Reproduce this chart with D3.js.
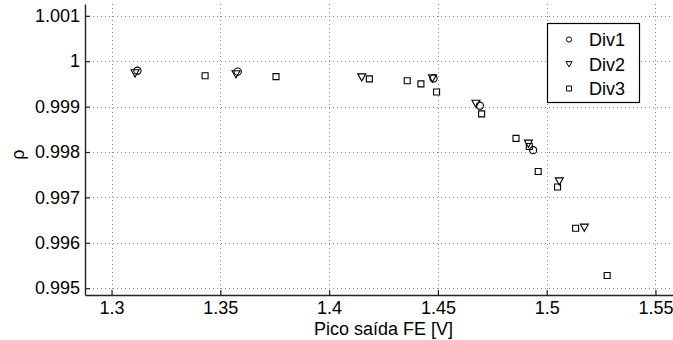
<!DOCTYPE html>
<html><head><meta charset="utf-8">
<script src="https://cdn.jsdelivr.net/npm/d3@7"></script>
<style>body{margin:0;background:#fff}svg{display:block}text{font-family:"Liberation Sans",Arial,sans-serif;fill:#000}</style>
</head><body>
<svg id="c" width="673" height="340"></svg>
<script>
const div1X = [1.3119, 1.3580, 1.4480, 1.4693, 1.4938];
const div1Y = [0.99979, 0.99977, 0.99962, 0.99902, 0.99804];
const div2X = [1.3108, 1.3572, 1.4150, 1.4475, 1.4675, 1.4916, 1.5058, 1.5173];
const div2Y = [0.99974, 0.99972, 0.99965, 0.99963, 0.99907, 0.99819, 0.99736, 0.99634];
const div3X = [1.3430, 1.3756, 1.4185, 1.4359, 1.4422, 1.4494, 1.4701, 1.4859, 1.4920, 1.4961, 1.5050, 1.5133, 1.5278];
const div3Y = [0.99968, 0.99966, 0.99961, 0.99957, 0.99950, 0.99932, 0.99884, 0.99830, 0.99812, 0.99757, 0.99723, 0.99632, 0.99528];
const xTicks = [1.3, 1.35, 1.4, 1.45, 1.5, 1.55];
const xTickLabels = ["1.3", "1.35", "1.4", "1.45", "1.5", "1.55"];
const yTicks = [0.995, 0.996, 0.997, 0.998, 0.999, 1.0, 1.001];
const yTickLabels = ["0.995", "0.996", "0.997", "0.998", "0.999", "1", "1.001"];
const seriesNames = ["Div1", "Div2", "Div3"];
const xLim = [1.2878, 1.5622];
const yLim = [0.99485, 1.00126];

const svg = d3.select("#c");
const L = 85, R = 682, T = 4, B = 295;
const x = d3.scaleLinear().domain(xLim).range([L, R]);
const y = d3.scaleLinear().domain(yLim).range([B, T]);

// grid
const grid = svg.append("g").attr("stroke", "#8a8a8a").attr("stroke-width", 1).attr("stroke-dasharray", "1,3");
grid.selectAll("line.gx").data(xTicks).join("line")
  .attr("x1", d => Math.round(x(d)) + 0.5).attr("x2", d => Math.round(x(d)) + 0.5)
  .attr("y1", T).attr("y2", B);
grid.selectAll("line.gy").data(yTicks).join("line")
  .attr("y1", d => Math.round(y(d)) + 0.5).attr("y2", d => Math.round(y(d)) + 0.5)
  .attr("x1", L).attr("x2", R);

// axes
const xAxis = d3.axisBottom(x).tickValues(xTicks).tickFormat((d, i) => xTickLabels[i]).tickSizeInner(-5).tickSizeOuter(0).tickPadding(6);
const gx = svg.append("g").attr("transform", `translate(0,${B})`).call(xAxis);
const yAxis = d3.axisLeft(y).tickValues(yTicks).tickFormat((d, i) => yTickLabels[i]).tickSizeInner(-5).tickSizeOuter(0).tickPadding(5);
const gy = svg.append("g").attr("transform", `translate(${L},0)`).call(yAxis);
[gx, gy].forEach(g => {
  g.select(".domain").attr("stroke", "#222").attr("stroke-width", 1.4);
  g.selectAll(".tick line").attr("stroke", "#222").attr("stroke-width", 1.2);
  g.selectAll(".tick text").attr("font-size", 18).attr("font-family", "Liberation Sans, Arial, sans-serif").attr("fill", "#000");
});

// markers
const circ = (r) => `M${r},0A${r},${r} 0 1,1 ${-r},0A${r},${r} 0 1,1 ${r},0Z`;
const tri = (w) => `M${-w/2},${-w*0.4}L${w/2},${-w*0.4}L0,${w*0.5}Z`;
const sq = (s) => `M${-s/2},${-s/2}h${s}v${s}h${-s}Z`;
const shapes = [circ(3.6), tri(8), sq(6)];
const legShapes = [circ(2.6), tri(6), sq(5)];
const series = [d3.zip(div1X, div1Y), d3.zip(div2X, div2Y), d3.zip(div3X, div3Y)];
series.forEach((pts, k) => {
  svg.append("g").selectAll("path").data(pts).join("path")
    .attr("d", shapes[k])
    .attr("transform", d => `translate(${x(d[0])},${y(d[1])})`)
    .attr("fill", "none").attr("stroke", "#000").attr("stroke-width", 1.1);
});

// legend
const lg = svg.append("g");
lg.append("rect").attr("x", 547.5).attr("y", 23.5).attr("width", 92).attr("height", 79)
  .attr("fill", "#fff").attr("stroke", "#000").attr("stroke-width", 1.2);
seriesNames.forEach((n, i) => {
  const cy = 39.5 + i * 24.5;
  lg.append("path").attr("d", legShapes[i]).attr("transform", `translate(569,${cy})`)
    .attr("fill", "none").attr("stroke", "#000").attr("stroke-width", 1);
  lg.append("text").attr("x", 589).attr("y", cy + 6.5).attr("font-size", 18).text(n);
});

// labels
svg.append("text").attr("x", (L + R) / 2).attr("y", 335).attr("text-anchor", "middle").attr("font-size", 18).text("Pico saída FE [V]");
svg.append("text").attr("transform", `translate(24,${(T + B) / 2 + 5}) rotate(-90)`).attr("text-anchor", "middle").attr("font-size", 18).text("ρ");
</script>
</body></html>
